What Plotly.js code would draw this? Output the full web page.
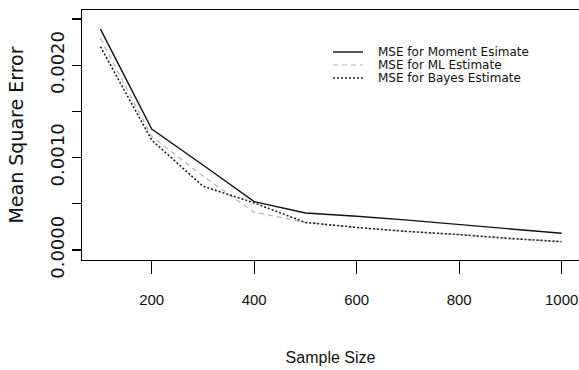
<!DOCTYPE html>
<html>
<head>
<meta charset="utf-8">
<script src="https://cdn.plot.ly/plotly-3.0.1.min.js"></script>
<style>html,body{margin:0;padding:0;background:#fff;}#chart{width:579px;height:370px;}</style>
</head>
<body>
<div id="chart"></div>
<script>
// ---- data ----
var sampleSize = [100, 200, 300, 400, 500, 600, 700, 800, 900, 1000];
var mseMoment  = [0.00239, 0.00131, 0.00092, 0.000523, 0.00040, 0.000366, 0.000323, 0.000278, 0.000231, 0.000181];
var mseML      = [0.00229, 0.00123, 0.00080, 0.00041, 0.000300, 0.000244, 0.000200, 0.000167, 0.000124, 0.000090];
var mseBayes   = [0.00220, 0.00119, 0.00069, 0.00051, 0.000298, 0.000244, 0.000200, 0.000167, 0.000124, 0.000090];
var seriesNames = ["MSE for Moment Esimate", "MSE for ML Estimate", "MSE for Bayes Estimate"];
var xTickVals = [200, 400, 600, 800, 1000];
var xTickText = ["200", "400", "600", "800", "1000"];
var yTickVals = [0, 0.0005, 0.0010, 0.0015, 0.0020, 0.0025];
var yTickText = ["0.0000", "", "0.0010", "", "0.0020", ""];

var styles = [
  {color: "#111111", width: 1.4, dash: "solid"},
  {color: "#b4b4b4", width: 1.2, dash: "5px,4px"},
  {color: "#222222", width: 1.6, dash: "2px,2px"}
];
var ys = [mseMoment, mseML, mseBayes];
var traces = ys.map(function (y, i) {
  return {x: sampleSize, y: y, type: "scatter", mode: "lines", name: seriesNames[i],
          line: styles[i], showlegend: false, hoverinfo: "x+y"};
});
traces = [traces[1], traces[0], traces[2]];

// legend drawn as annotations + key lines (R-style compact legend)
var L = 82, W = 497, T = 10, H = 250;
function px2x(p) { return (p - L) / W; }
function py2y(p) { return (T + H - p) / H; }
var legRows = [52, 65, 78];
var shapes = [], annotations = [];
for (var i = 0; i < 3; i++) {
  shapes.push({type: "line", xref: "paper", yref: "paper",
    x0: px2x(333), x1: px2x(363), y0: py2y(legRows[i]), y1: py2y(legRows[i]),
    line: {color: styles[i].color, width: styles[i].width, dash: styles[i].dash}});
  annotations.push({xref: "paper", yref: "paper", x: px2x(377), y: py2y(legRows[i]),
    xanchor: "left", yanchor: "middle", text: seriesNames[i], showarrow: false, borderpad: 0,
    font: {family: "DejaVu Sans, Arial, sans-serif", size: 12, color: "#111"}});
}

var tickFamily = "Liberation Sans, Arial, sans-serif";
var layout = {
  width: 579, height: 370,
  margin: {l: L, r: 0, t: T, b: 370 - T - H, pad: 0},
  paper_bgcolor: "#fff", plot_bgcolor: "#fff",
  showlegend: false,
  xaxis: {
    range: [64, 1033.8], tickmode: "array", tickvals: xTickVals, ticktext: xTickText,
    ticks: "outside", ticklen: 13, tickwidth: 1.2, tickcolor: "#000",
    showline: true, mirror: true, linecolor: "#000", linewidth: 1.4,
    showgrid: false, zeroline: false, ticklabelstandoff: 13, ticklabeloverflow: "allow",
    tickfont: {family: tickFamily, size: 15, color: "#111"},
    title: {text: "Sample Size", standoff: 44,
      font: {family: tickFamily, size: 16, color: "#111"}}
  },
  yaxis: {
    range: [-0.0001082, 0.0025974], tickmode: "array", tickvals: yTickVals, ticktext: yTickText,
    ticks: "outside", ticklen: 9, tickwidth: 1.2, tickcolor: "#000", tickangle: -90,
    showline: true, mirror: false, linecolor: "#000", linewidth: 1.4,
    showgrid: false, zeroline: false, ticklabelstandoff: 0, ticklabeloverflow: "allow",
    tickfont: {family: "DejaVu Sans, Arial, sans-serif", size: 18, color: "#111"},
    title: {text: "Mean Square Error", standoff: 18,
      font: {family: "DejaVu Sans, Arial, sans-serif", size: 19, color: "#111"}}
  },
  shapes: shapes,
  annotations: annotations
};

Plotly.newPlot("chart", traces, layout, {staticPlot: true, displayModeBar: false});
</script>
</body>
</html>
